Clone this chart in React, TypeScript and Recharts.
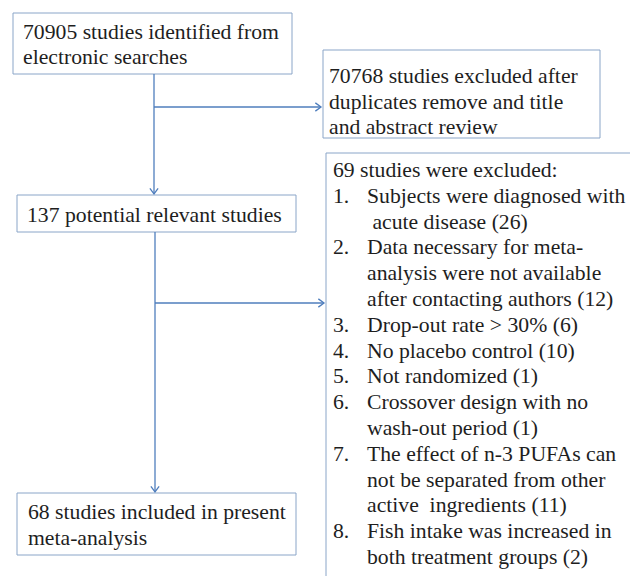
import React from 'react';
import { ComposedChart, XAxis, YAxis, ReferenceArea, ReferenceLine, Label } from 'recharts';

// ---- data ----
const stageNames = ['identified', 'screenedOut', 'potential', 'fullTextOut', 'included'];
const stageCounts = [70905, 70768, 137, 69, 68];
const reasonTexts: string[][] = [
  ['Subjects were diagnosed with', '\u00a0acute disease'],
  ['Data necessary for meta-', 'analysis were not available', 'after contacting authors'],
  ['Drop-out rate > 30%'],
  ['No placebo control'],
  ['Not randomized'],
  ['Crossover design with no', 'wash-out period'],
  ['The effect of n-3 PUFAs can', 'not be separated from other', 'active\u00a0 ingredients'],
  ['Fish intake was increased in', 'both treatment groups'],
];
const reasonCounts = [26, 12, 6, 10, 1, 1, 11, 2];

// ---- text built from data ----
const boxLines: Record<string, string[]> = {
  identified: [`${stageCounts[0]} studies identified from`, 'electronic searches'],
  screenedOut: [`${stageCounts[1]} studies excluded after`, 'duplicates remove and title', 'and abstract review'],
  potential: [`${stageCounts[2]} potential relevant studies`],
  included: [`${stageCounts[4]} studies included in present`, 'meta-analysis'],
};

type Row = { num?: string; text: string; indent: boolean };
const reasonRows: Row[] = [{ text: `${stageCounts[3]} studies were excluded:`, indent: false }];
reasonTexts.forEach((lines, i) => {
  lines.forEach((l, j) => {
    const last = j === lines.length - 1;
    reasonRows.push({
      num: j === 0 ? `${i + 1}.` : undefined,
      text: last ? `${l} (${reasonCounts[i]})` : l,
      indent: true,
    });
  });
});

// ---- layout ----
const W = 630;
const H = 576;
const FONT = "'Liberation Serif', 'Times New Roman', 'DejaVu Serif', serif";
const FS = 21.7;
const LH = 25.6;
const LH4 = 25.8;
const BORDER = '#8aa5c8';
const ARROW = '#4f7ebd';
const TEXT = '#1e1e1e';
const textStyle: React.CSSProperties = { fontFamily: FONT, fontSize: FS };

const rects: Record<string, { x1: number; x2: number; y1: number; y2: number; padX: number; base: number }> = {
  identified: { x1: 13, x2: 292, y1: 13, y2: 74, padX: 10, base: 25.5 },
  screenedOut: { x1: 323, x2: 600, y1: 50, y2: 138, padX: 6, base: 33 },
  potential: { x1: 17, x2: 296, y1: 195, y2: 232, padX: 10, base: 27 },
  fullTextOut: { x1: 326, x2: 630, y1: 153, y2: 576, padX: 7, base: 24 },
  included: { x1: 17, x2: 296, y1: 493, y2: 555, padX: 11, base: 26 },
};

const multiLine = (lines: string[], padX: number, base: number) => (props: any) => {
  const vb = props.viewBox || {};
  const x = vb.x ?? 0;
  const y = vb.y ?? 0;
  return (
    <g>
      {lines.map((l, i) => (
        <text key={i} x={x + padX} y={y + base + i * LH} style={textStyle} fill={TEXT}>
          {l}
        </text>
      ))}
    </g>
  );
};

const reasonContent = (padX: number, base: number) => (props: any) => {
  const vb = props.viewBox || {};
  const x = vb.x ?? 0;
  const y = vb.y ?? 0;
  return (
    <g>
      {reasonRows.map((r, i) => {
        const yy = y + base + i * LH4;
        return (
          <g key={i}>
            {r.num && (
              <text x={x + padX} y={yy} style={textStyle} fill={TEXT}>
                {r.num}
              </text>
            )}
            <text x={x + padX + (r.indent ? 34 : 0)} y={yy} style={textStyle} fill={TEXT}>
              {r.text}
            </text>
          </g>
        );
      })}
    </g>
  );
};

const ArrowShape = (props: any) => {
  const { x1, y1, x2, y2 } = props;
  const ang = Math.atan2(y2 - y1, x2 - x1);
  const L = 7;
  const a = Math.PI / 5;
  const p1 = [x2 - L * Math.cos(ang - a), y2 - L * Math.sin(ang - a)];
  const p2 = [x2 - L * Math.cos(ang + a), y2 - L * Math.sin(ang + a)];
  return (
    <g>
      <line x1={x1} y1={y1} x2={x2} y2={y2} stroke={ARROW} strokeWidth={1.3} />
      <polyline
        points={`${p1[0]},${p1[1]} ${x2},${y2} ${p2[0]},${p2[1]}`}
        fill="none"
        stroke={ARROW}
        strokeWidth={1.3}
      />
    </g>
  );
};

const PlainLine = (props: any) => {
  const { x1, y1, x2, y2 } = props;
  return <line x1={x1} y1={y1} x2={x2} y2={y2} stroke={BORDER} strokeWidth={1} />;
};

const arrows = [
  { from: { x: 154, y: 74 }, to: { x: 154, y: 194 } },
  { from: { x: 154, y: 107 }, to: { x: 321, y: 107 } },
  { from: { x: 155, y: 232 }, to: { x: 155, y: 492 } },
  { from: { x: 155, y: 303 }, to: { x: 324, y: 303 } },
];

export default function App() {
  const r4 = rects.fullTextOut;
  return (
    <div style={{ width: W, height: H, background: '#fff', fontFamily: FONT }}>
      <style>{'body{margin:0;overflow:hidden;background:#fff}'}</style>
      <ComposedChart width={W} height={H} data={[]} margin={{ top: 0, right: 0, bottom: 0, left: 0 }}>
        <XAxis type="number" dataKey="x" domain={[0, W]} hide allowDataOverflow />
        <YAxis type="number" dataKey="y" domain={[0, H]} reversed hide allowDataOverflow />
        {arrows.map((a, i) => (
          <ReferenceLine key={`a${i}`} segment={[a.from, a.to]} shape={ArrowShape} ifOverflow="visible" />
        ))}
        {stageNames
          .filter((n) => n !== 'fullTextOut')
          .map((n) => {
            const r = rects[n];
            return (
              <ReferenceArea
                key={n}
                x1={r.x1}
                x2={r.x2}
                y1={r.y1}
                y2={r.y2}
                fill="#ffffff"
                fillOpacity={1}
                stroke={BORDER}
                strokeWidth={1}
                ifOverflow="visible"
              >
                <Label content={multiLine(boxLines[n], r.padX, r.base)} />
              </ReferenceArea>
            );
          })}
        <ReferenceArea
          x1={r4.x1}
          x2={r4.x2}
          y1={r4.y1}
          y2={r4.y2}
          fill="#ffffff"
          fillOpacity={1}
          stroke="none"
          ifOverflow="visible"
        >
          <Label content={reasonContent(r4.padX, r4.base)} />
        </ReferenceArea>
        <ReferenceLine segment={[{ x: r4.x1, y: r4.y1 }, { x: r4.x2, y: r4.y1 }]} shape={PlainLine} ifOverflow="visible" />
        <ReferenceLine segment={[{ x: r4.x1, y: r4.y1 }, { x: r4.x1, y: r4.y2 }]} shape={PlainLine} ifOverflow="visible" />
      </ComposedChart>
    </div>
  );
}
